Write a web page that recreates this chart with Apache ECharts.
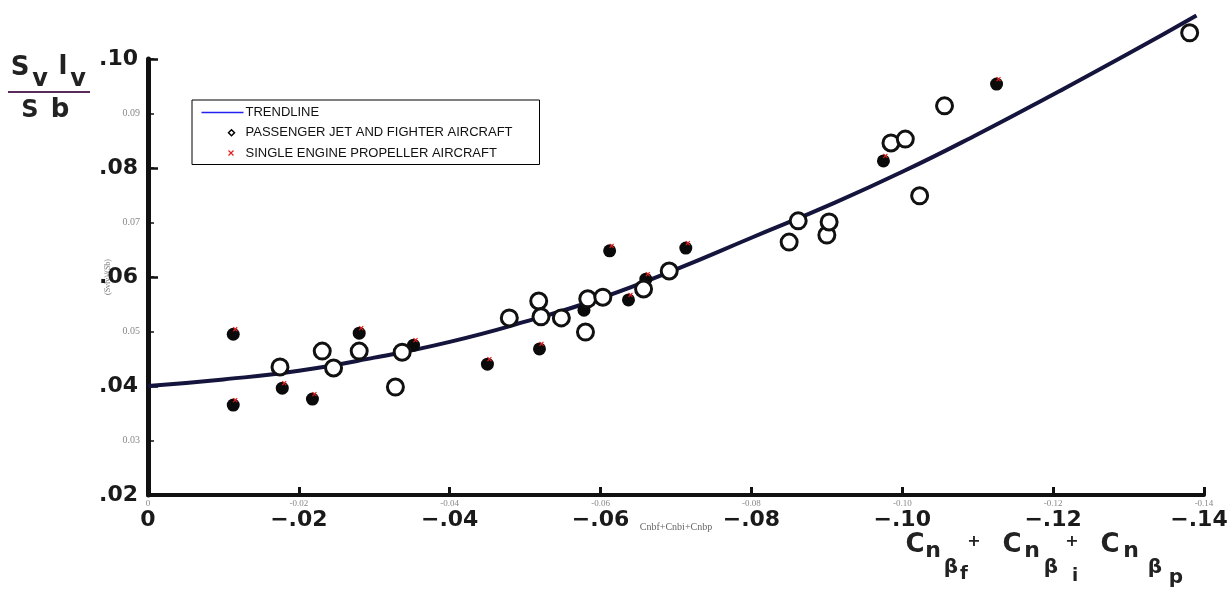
<!DOCTYPE html>
<html>
<head>
<meta charset="utf-8">
<script src="https://cdn.jsdelivr.net/npm/echarts@6/dist/echarts.min.js"></script>
<style>
  html, body { margin: 0; padding: 0; background: #ffffff; overflow: hidden; }
  #chart { width: 1227px; height: 590px; }
</style>
</head>
<body>
<div id="chart"></div>
<script>
// Fitted trendline, sampled every 0.01 along the x axis
const trendX = [0, -0.01, -0.02, -0.03, -0.04, -0.05, -0.06, -0.07, -0.08, -0.09, -0.10, -0.11, -0.12, -0.13, -0.139];
const trendY = [0.0400, 0.0412, 0.0428, 0.0452, 0.0481, 0.0518, 0.0561, 0.0614, 0.0672, 0.0730, 0.0793, 0.0862, 0.0935, 0.1010, 0.1080];

// Passenger jet and fighter aircraft
const jetX = [-0.0175, -0.0231, -0.0246, -0.0280, -0.0328, -0.0337, -0.0479, -0.0518, -0.0521, -0.0548, -0.0580, -0.0583,
              -0.0603, -0.0657, -0.0691, -0.0850, -0.0862, -0.0900, -0.0903, -0.1023, -0.0985, -0.1004, -0.1056, -0.1381];
const jetY = [0.0435, 0.0464, 0.0433, 0.0464, 0.0398, 0.0462, 0.0525, 0.0556, 0.0527, 0.0525, 0.0499, 0.0560,
              0.0563, 0.0578, 0.0611, 0.0664, 0.0703, 0.0677, 0.0701, 0.0749, 0.0846, 0.0853, 0.0914, 0.1048];

// Single engine propeller aircraft
const propX = [-0.0113, -0.0113, -0.0178, -0.0218, -0.0280, -0.0352, -0.0450, -0.0519, -0.0578, -0.0612, -0.0637,
               -0.0660, -0.0713, -0.0975, -0.1125];
const propY = [0.0495, 0.0365, 0.0396, 0.0376, 0.0497, 0.0475, 0.0440, 0.0468, 0.0539, 0.0648, 0.0558,
               0.0596, 0.0653, 0.0813, 0.0954];

// Tick labels
const xTickValues = [0, -0.02, -0.04, -0.06, -0.08, -0.10, -0.12, -0.14];
const xTickLabels = ['0', '\u2212.02', '\u2212.04', '\u2212.06', '\u2212.08', '\u2212.10', '\u2212.12', '\u2212.14'];
const yTickValues = [0.02, 0.04, 0.06, 0.08, 0.10];
const yTickLabels = ['.02', '.04', '.06', '.08', '.10'];

const pairs = (xs, ys) => xs.map((x, i) => [x, ys[i]]);
const lookup = (vals, labels, v) => {
  const i = vals.findIndex(t => Math.abs(t - v) < 1e-9);
  return i >= 0 ? labels[i] : '';
};

const BIG = 'DejaVu Sans';
const SMALL = 'Liberation Serif';

const chart = echarts.init(document.getElementById('chart'), null, { renderer: 'canvas' });

// Pieces of the axis titles (symbols with subscripts)
const textPieces = [
  // S_v l_v / S b
  ['S', 20, 68, 26], ['v', 40, 80, 24], ['l', 63, 67, 26], ['v', 78, 80, 24],
  ['S', 30, 111, 24], ['b', 60, 110, 26],
  // Cn_beta_f + Cn_beta_i + Cn_beta_p
  ['C', 915, 545, 26], ['n', 933, 551, 22], ['\u03b2', 951, 568, 20], ['f', 964, 574, 18], ['+', 974, 542, 16],
  ['C', 1012, 545, 26], ['n', 1032, 551, 22], ['\u03b2', 1051, 568, 20], ['i', 1075, 576, 18], ['+', 1072, 542, 16],
  ['C', 1110, 545, 26], ['n', 1131, 551, 22], ['\u03b2', 1155, 568, 20], ['p', 1176, 578, 20]
];

const graphics = textPieces.map(([t, x, y, s]) => ({
  type: 'text', x: x, y: y, silent: true,
  style: { text: t, fontFamily: BIG, fontSize: s, fontWeight: 'bold', fill: '#222',
           align: 'center', verticalAlign: 'middle' }
}));
graphics.push({
  type: 'rect', silent: true,
  shape: { x: 8, y: 91, width: 82, height: 2 },
  style: { fill: '#5a2a5a' }
});

chart.setOption({
  backgroundColor: '#ffffff',
  animation: false,
  grid: { left: 148, right: 23, top: 59, bottom: 95, containLabel: false, outerBoundsMode: 'none' },
  legend: {
    orient: 'vertical',
    left: 192, top: 100,
    padding: [4, 27, 3, 7],
    itemGap: 5,
    itemWidth: 42, itemHeight: 12,
    borderColor: '#000', borderWidth: 1, backgroundColor: '#fff',
    textStyle: { fontFamily: 'Liberation Sans', fontSize: 13, color: '#111', padding: [0, 0, 0, -3] },
    data: [
      { name: 'TRENDLINE',
        icon: 'path://M0,0 M42,12 M0,6 L42,6',
        itemStyle: { color: 'none', borderColor: '#2222ee', borderWidth: 1.5 } },
      { name: 'PASSENGER JET AND FIGHTER AIRCRAFT',
        icon: 'path://M0,0 M42,12 M30,3 L33,6 L30,9 L27,6 Z',
        itemStyle: { color: '#fff', borderColor: '#000', borderWidth: 1.5 } },
      { name: 'SINGLE ENGINE PROPELLER AIRCRAFT',
        icon: 'path://M0,0 M42,12 M27,3.5 L32,8.5 M32,3.5 L27,8.5',
        itemStyle: { color: 'none', borderColor: '#e02020', borderWidth: 1.2 } }
    ]
  },
  xAxis: [
    {
      type: 'value', min: -0.14, max: 0, interval: 0.02, inverse: true, position: 'bottom',
      name: 'Cnbf+Cnbi+Cnbp', nameLocation: 'middle', nameGap: 27,
      nameTextStyle: { fontFamily: SMALL, fontSize: 10, color: '#666' },
      axisLine: { onZero: false, lineStyle: { color: '#111', width: 4 } },
      axisTick: { inside: true, length: 8, lineStyle: { color: '#111', width: 3 } },
      axisLabel: { margin: 4, fontFamily: SMALL, fontSize: 9, color: '#888',
                   formatter: v => (v === 0 ? '0' : v.toFixed(2)) },
      splitLine: { show: false }
    },
    {
      type: 'value', min: -0.14, max: 0, interval: 0.02, inverse: true, position: 'bottom',
      axisLine: { show: false }, axisTick: { show: false }, splitLine: { show: false },
      axisLabel: {
        margin: 14, fontFamily: BIG, fontSize: 22, fontWeight: 'bold', color: '#1a1a1a',
        formatter: v => {
          const s = lookup(xTickValues, xTickLabels, v);
          return Math.abs(v + 0.14) < 1e-9 ? '{last|' + s + '}' : s;
        },
        rich: { last: { fontFamily: BIG, fontSize: 22, fontWeight: 'bold', color: '#1a1a1a', padding: [0, 10, 0, 0] } }
      }
    }
  ],
  yAxis: [
    {
      type: 'value', min: 0.02, max: 0.10, interval: 0.01, position: 'left',
      name: '(Svlv)/(Sb)', nameLocation: 'middle', nameGap: 14, nameRotate: 90,
      nameTextStyle: { fontFamily: SMALL, fontSize: 8, color: '#777' },
      axisLine: { onZero: false, lineStyle: { color: '#111', width: 5 } },
      axisTick: { inside: true, length: 6, lineStyle: { color: '#111', width: 1.5 } },
      axisLabel: { margin: 8, fontFamily: SMALL, fontSize: 10, color: '#888',
                   formatter: v => (Math.round(v * 100) % 2 === 1 ? v.toFixed(2) : '') },
      splitLine: { show: false }
    },
    {
      type: 'value', min: 0.02, max: 0.10, interval: 0.02, position: 'left', offset: 0,
      axisLine: { show: false, onZero: false }, splitLine: { show: false },
      axisTick: { show: true, inside: true, length: 10, lineStyle: { color: '#111', width: 2.5 } },
      axisLabel: { margin: 10, fontFamily: BIG, fontSize: 22, fontWeight: 'bold', color: '#1a1a1a',
                   formatter: v => lookup(yTickValues, yTickLabels, v) }
    }
  ],
  graphic: graphics,
  series: [
    {
      name: 'TRENDLINE', type: 'line', xAxisIndex: 0, yAxisIndex: 0,
      data: pairs(trendX, trendY), smooth: true, symbol: 'none', clip: false,
      color: '#2222ee',
      lineStyle: { color: '#14143c', width: 4 }, z: 2
    },
    {
      name: 'SINGLE ENGINE PROPELLER AIRCRAFT', type: 'scatter', xAxisIndex: 0, yAxisIndex: 0,
      data: pairs(propX, propY), symbol: 'circle', symbolSize: 13, clip: false,
      itemStyle: { color: '#0a0a0a', opacity: 1 }, z: 3
    },
    {
      name: 'SINGLE ENGINE PROPELLER AIRCRAFT', type: 'scatter', xAxisIndex: 0, yAxisIndex: 0,
      data: pairs(propX, propY), symbol: 'path://M0,0 L10,10 M10,0 L0,10', symbolSize: 4,
      symbolOffset: [2, -5], clip: false,
      itemStyle: { color: 'none', borderColor: '#e02020', borderWidth: 1.2, opacity: 1 }, z: 4
    },
    {
      name: 'PASSENGER JET AND FIGHTER AIRCRAFT', type: 'scatter', xAxisIndex: 0, yAxisIndex: 0,
      data: pairs(jetX, jetY), symbol: 'circle', symbolSize: 16, clip: false,
      itemStyle: { color: '#ffffff', borderColor: '#111', borderWidth: 3, opacity: 1 }, z: 5
    }
  ]
});
</script>
</body>
</html>
